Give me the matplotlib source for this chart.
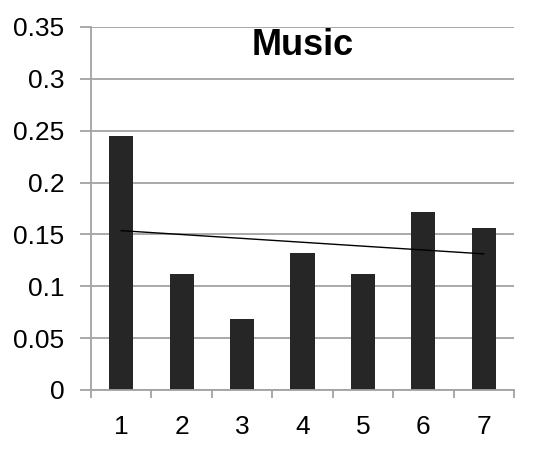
import numpy as np
import matplotlib.pyplot as plt

plt.rcParams['font.family'] = ['Liberation Sans', 'DejaVu Sans']

categories = [1, 2, 3, 4, 5, 6, 7]
values = [0.245, 0.112, 0.0685, 0.132, 0.112, 0.1715, 0.156]

fig = plt.figure(figsize=(5.42, 4.55), dpi=100)
ax = fig.add_axes([0.1679, 0.1429, 0.7804, 0.7978])

grid_col = '#a3a3a3'
ax.set_axisbelow(True)
ax.yaxis.grid(True, color=grid_col, linewidth=1.3)

ax.bar(categories, values, width=0.4, color='#262626')

# linear trendline
coef = np.polyfit(categories, values, 1)
xs = np.array([categories[0], categories[-1]])
ax.plot(xs, np.polyval(coef, xs), color='black', linewidth=1)

ax.set_xlim(0.5, 7.5)
ax.set_ylim(0, 0.35)
ax.set_yticks(np.arange(0, 0.351, 0.05))
ax.set_yticklabels(['0', '0.05', '0.1', '0.15', '0.2', '0.25', '0.3', '0.35'])
ax.set_xticks(categories)
ax.set_xticks(np.arange(0.5, 7.6, 1), minor=True)

ax.tick_params(axis='y', length=8, width=1.3, color=grid_col, labelsize=19, pad=11)
ax.tick_params(axis='x', which='major', length=0, labelsize=19, pad=18)
ax.tick_params(axis='x', which='minor', length=6, width=1.3, color=grid_col)

for s in ['top', 'right']:
    ax.spines[s].set_visible(False)
for s in ['left', 'bottom']:
    ax.spines[s].set_color(grid_col)
    ax.spines[s].set_linewidth(1.3)

ax.text(4, 0.332, 'Music', ha='center', va='center', fontsize=26, fontweight='bold')

fig.savefig('out.png', dpi=100)
